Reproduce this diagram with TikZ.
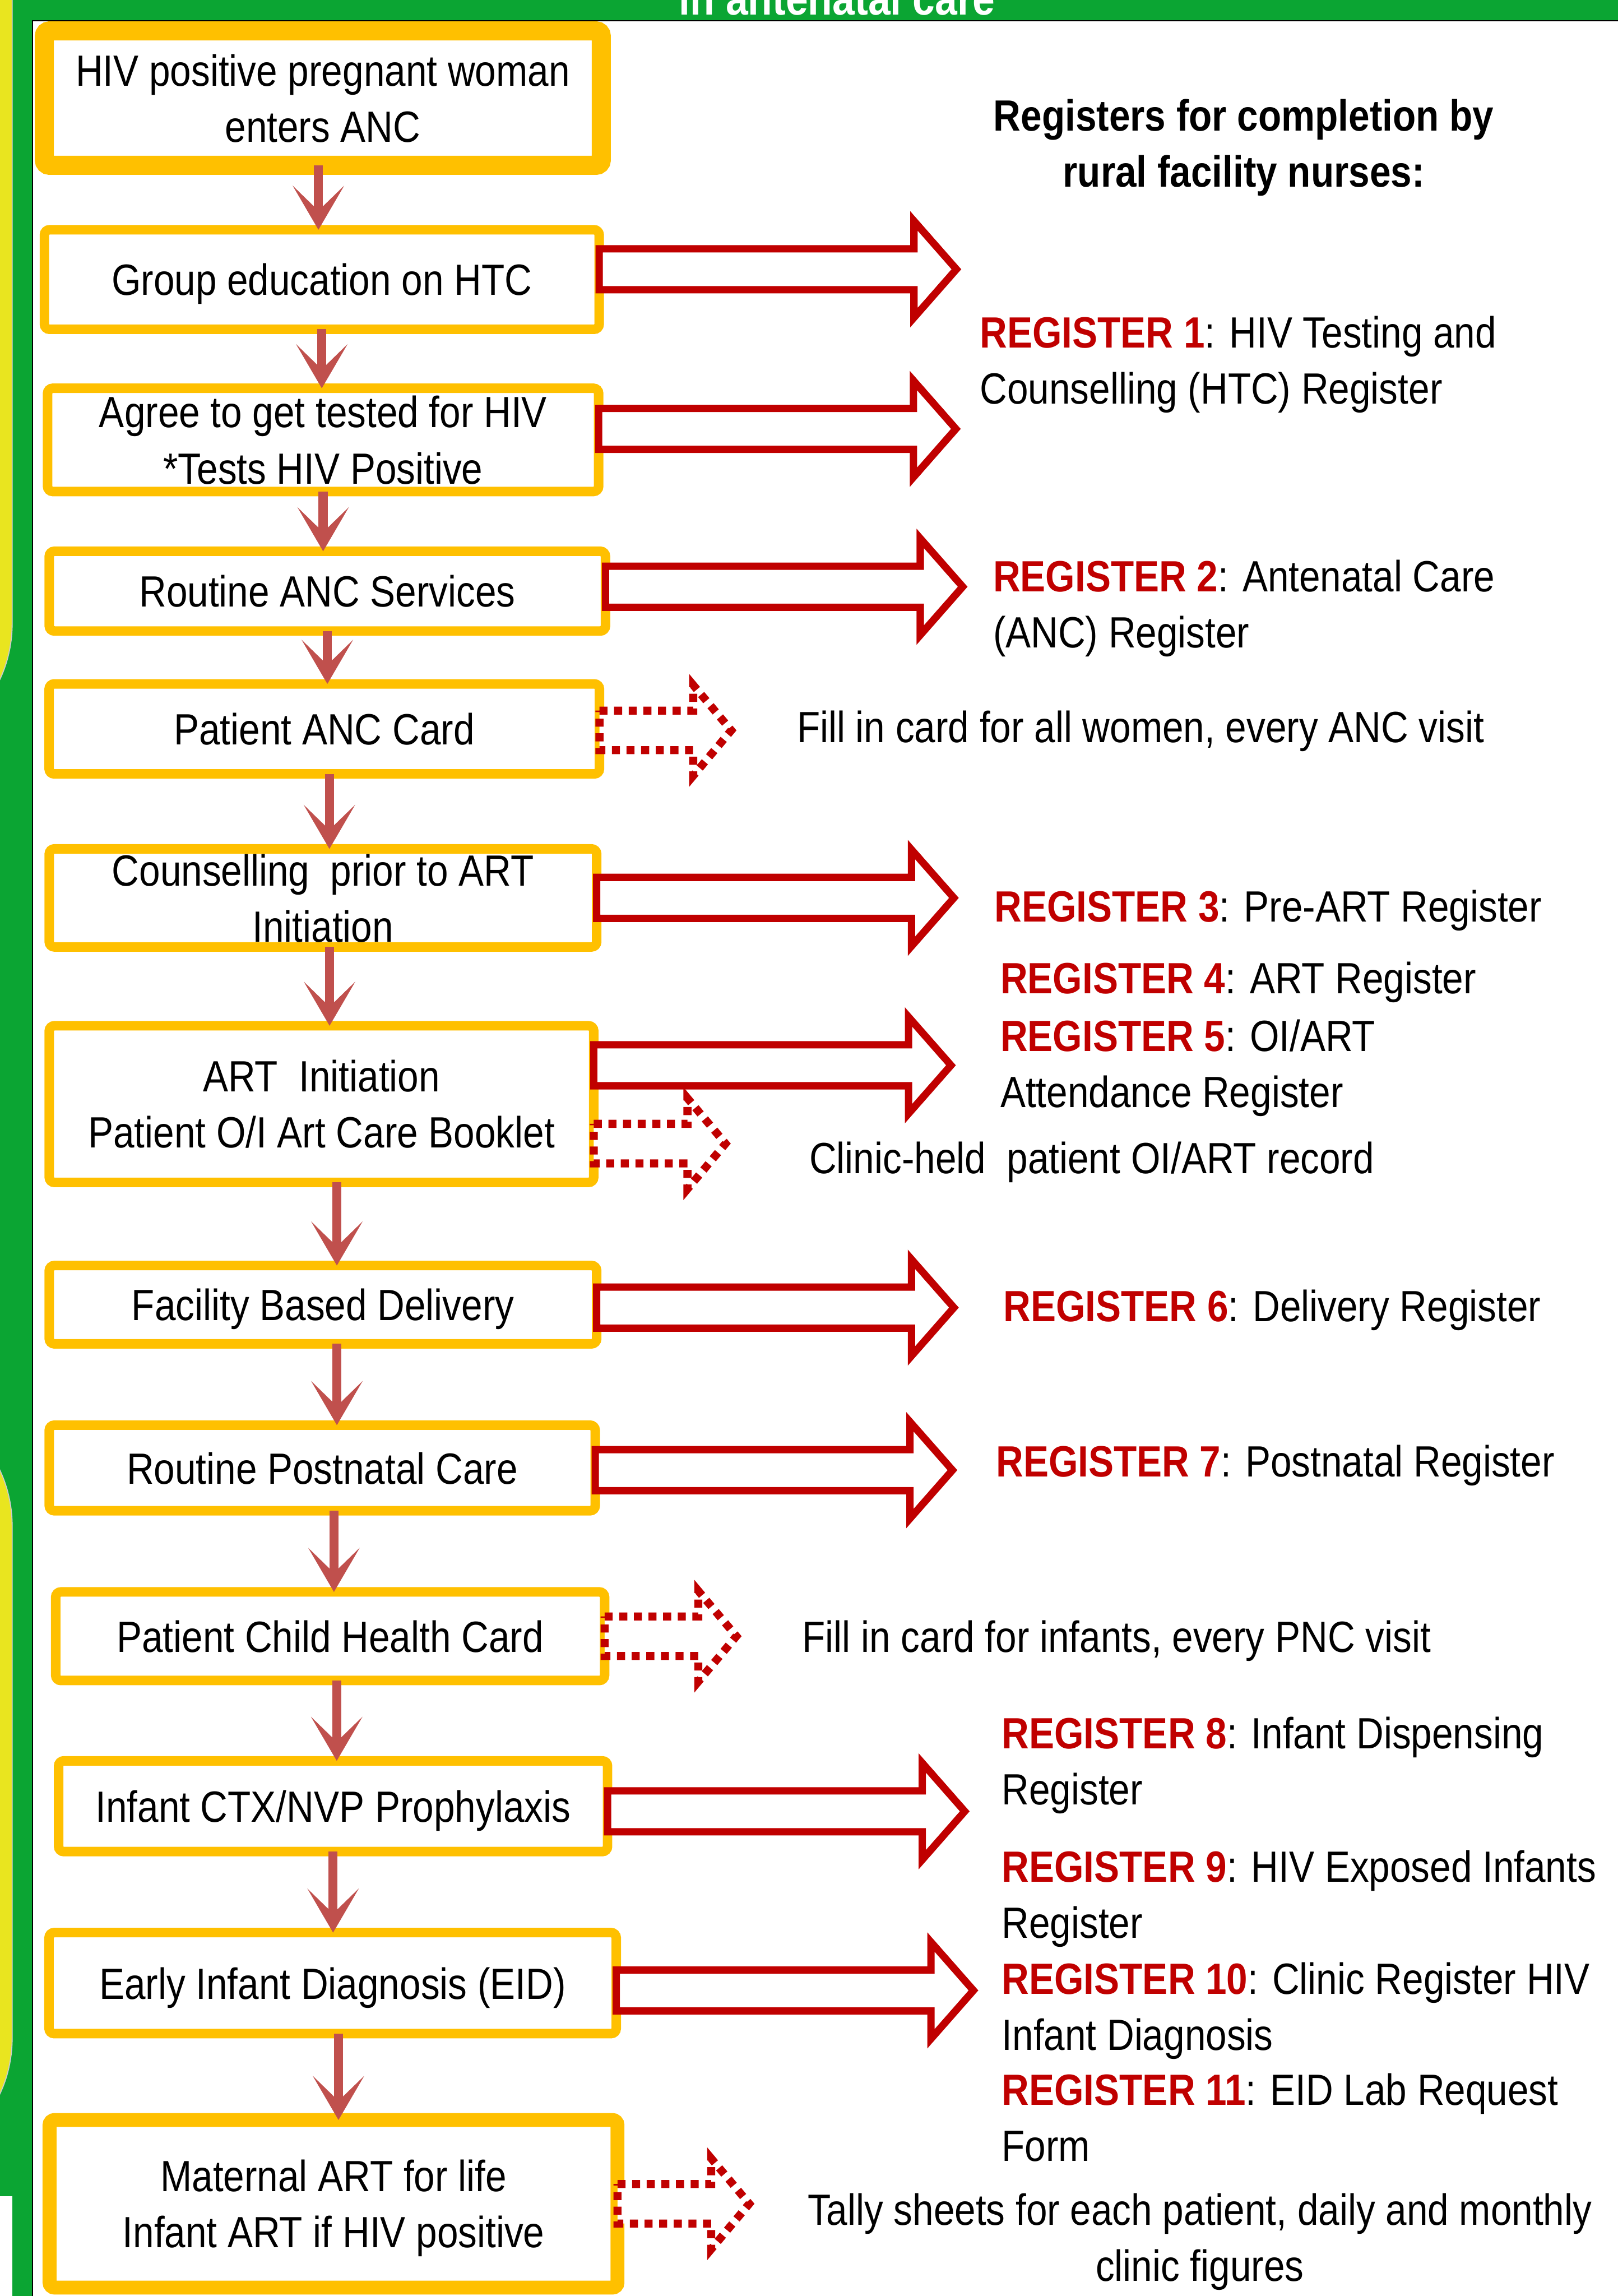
\documentclass[tikz,border=0pt]{standalone}
\usepackage{fontspec}
\setmainfont{Liberation Sans}[FakeStretch=0.865]
\usetikzlibrary{arrows.meta}
\definecolor{bandgreen}{HTML}{0BA533}
\definecolor{stripyellow}{HTML}{E9E51F}
\definecolor{boxyellow}{HTML}{FFC000}
\definecolor{regred}{HTML}{C00000}
\definecolor{flowred}{HTML}{C0504D}
\newcommand{\regno}[1]{\textcolor{regred}{\textbf{#1}}}

\begin{document}
\begin{tikzpicture}[
	x=0.02cm, y=-0.02cm,
	font=\fontsize{17}{21.8}\selectfont,
	stage/.style = {
		rectangle, draw=boxyellow, line width=0.13cm,
		fill=white, rounded corners=2pt, text depth=0pt,
		inner sep=0pt, outer sep=0pt, align=center
	},
	flow/.style = {
		draw=flowred, line width=0.124cm,
		-{Stealth[length=0.6cm, width=0.7cm, inset=0.34cm]}
	},
	regarrow/.pic = {
		\filldraw [draw=regred, fill=white, line width=0.1cm]
			(0,-14) -- (215,-14) -- (215,-33) -- (244,0)
			-- (215,33) -- (215,14) -- (0,14) -- cycle;
	},
	cardarrow/.pic = {
		\filldraw [draw=regred, fill=white, line width=0.11cm,
			dash pattern=on 0.11cm off 0.09cm]
			(0,-13.5) -- (64,-13.5) -- (64,-31) -- (90,0)
			-- (64,31) -- (64,13.5) -- (0,13.5) -- cycle;
	},
	note/.style = {anchor=base west, inner sep=0pt, align=left}
]
	\useasboundingbox (0,0) rectangle (1105,1568);
	\fill [bandgreen] (0,0) rectangle (1105,1568);
	\fill [white] (22.5,14.5) rectangle (1105,1568);
	\draw [line width=0.5pt] (22.3,1568) -- (22.3,14.3) -- (1105,14.3);
	\filldraw [fill=stripyellow, draw=gray!40, line width=0.4pt, rounded corners=1.8cm]
		(-200,-200) rectangle (8.3,516);
	\filldraw [fill=stripyellow, draw=gray!40, line width=0.4pt, rounded corners=1.8cm]
		(-200,952) rectangle (8.3,1482);
	\fill [white] (0,1500) rectangle (8.3,1568);
	\node [anchor=base west, inner sep=0pt, text=white, font=\fontsize{18}{22}\selectfont\bfseries]
		(title) at (463.5,10.2) {in antenatal care};

	\node [stage, line width=0.26cm, minimum width=7.61cm, minimum height=1.836cm]
		(enter) at (220.5,67) {HIV positive pregnant woman\\enters ANC};
	\node [stage, minimum width=7.58cm, minimum height=1.36cm]
		(edu) at (219.8,190.9) {Group education on HTC};
	\node [stage, minimum width=7.53cm, minimum height=1.41cm]
		(test) at (220.7,300.4) {Agree to get tested for HIV\\*Tests HIV Positive};
	\node [stage, minimum width=7.6cm, minimum height=1.09cm]
		(routine) at (223.6,403.7) {Routine ANC Services};
	\node [stage, minimum width=7.52cm, minimum height=1.23cm]
		(anccard) at (221.5,497.8) {Patient ANC Card};
	\node [stage, minimum width=7.48cm, minimum height=1.34cm]
		(counsel) at (220.6,613.2) {Counselling\ \ prior to ART\\Initiation};
	\node [stage, minimum width=7.44cm, minimum height=2.14cm]
		(artinit) at (219.6,754) {ART\ \ Initiation\\Patient O/I Art Care Booklet};
	\node [stage, minimum width=7.48cm, minimum height=1.07cm]
		(delivery) at (220.6,891) {Facility Based Delivery};
	\node [stage, minimum width=7.46cm, minimum height=1.17cm]
		(postnatal) at (220.1,1002.5) {Routine Postnatal Care};
	\node [stage, minimum width=7.5cm, minimum height=1.21cm]
		(childcard) at (225.5,1117.4) {Patient Child Health Card};
	\node [stage, minimum width=7.5cm, minimum height=1.24cm]
		(prophyl) at (227.5,1233.5) {Infant CTX/NVP Prophylaxis};
	\node [stage, minimum width=7.75cm, minimum height=1.38cm]
		(eid) at (227.2,1354.3) {Early Infant Diagnosis (EID)};
	\node [stage, line width=0.19cm, minimum width=7.76cm, minimum height=2.29cm]
		(lifeart) at (227.8,1505) {Maternal ART for life\\Infant ART if HIV positive};

	\pic at ([yshift=0.14cm]edu.east) {regarrow};
	\pic at ([yshift=0.15cm]test.east) {regarrow};
	\pic at ([yshift=0.06cm]routine.east) {regarrow};
	\pic at ([yshift=-0.02cm]anccard.east) {cardarrow};
	\pic at (counsel.east) {regarrow};
	\pic at ([yshift=0.53cm]artinit.east) {regarrow};
	\pic at ([yshift=-0.54cm]artinit.east) {cardarrow};
	\pic at ([yshift=-0.04cm]delivery.east) {regarrow};
	\pic at ([yshift=-0.03cm]postnatal.east) {regarrow};
	\pic at (childcard.east) {cardarrow};
	\pic at ([yshift=-0.07cm]prophyl.east) {regarrow};
	\pic at ([yshift=-0.1cm]eid.east) {regarrow};
	\pic at (lifeart.east) {cardarrow};

	\draw [flow] ([xshift=-0.06cm]enter.south) -- ([xshift=-0.06cm]enter.south |- edu.north);
	\draw [flow] (edu.south) -- (edu.south |- test.north);
	\draw [flow] (test.south) -- (test.south |- routine.north);
	\draw [flow] (routine.south) -- (routine.south |- anccard.north);
	\draw [flow] ([xshift=0.07cm]anccard.south) -- ([xshift=0.07cm]anccard.south |- counsel.north);
	\draw [flow] ([xshift=0.09cm]counsel.south) -- ([xshift=0.09cm]counsel.south |- artinit.north);
	\draw [flow] ([xshift=0.21cm]artinit.south) -- ([xshift=0.21cm]artinit.south |- delivery.north);
	\draw [flow] ([xshift=0.19cm]delivery.south) -- ([xshift=0.19cm]delivery.south |- postnatal.north);
	\draw [flow] ([xshift=0.16cm]postnatal.south) -- ([xshift=0.16cm]postnatal.south |- childcard.north);
	\draw [flow] ([xshift=0.09cm]childcard.south) -- ([xshift=0.09cm]childcard.south |- prophyl.north);
	\draw [flow] (prophyl.south) -- (prophyl.south |- eid.north);
	\draw [flow] ([xshift=0.08cm]eid.south) -- ([xshift=0.08cm]eid.south |- lifeart.north);

	\node [anchor=base, inner sep=0pt, align=center, font=\fontsize{17}{21.8}\selectfont\bfseries]
		(hdr) at (849.5,127.8) {Registers for completion by\\rural facility nurses:};
	\node [note] (reg1) at (669,276) {\regno{REGISTER 1}: HIV Testing and\\Counselling (HTC) Register};
	\node [note] (reg2) at (678,442.5) {\regno{REGISTER 2}: Antenatal Care\\(ANC) Register};
	\node [note] (fill1) at (544,507) {Fill in card for all women, every ANC visit};
	\node [note] (reg3) at (679,629.5) {\regno{REGISTER 3}: Pre-ART Register};
	\node [note] (reg4) at (683,678.5) {\regno{REGISTER 4}: ART Register};
	\node [note] (reg5) at (683,756.3) {\regno{REGISTER 5}: OI/ART\\Attendance Register};
	\node [note] (record) at (552.5,801.6) {Clinic-held\ \ patient OI/ART record};
	\node [note] (reg6) at (685,902.5) {\regno{REGISTER 6}: Delivery Register};
	\node [note] (reg7) at (680,1008.6) {\regno{REGISTER 7}: Postnatal Register};
	\node [note] (fill2) at (547.7,1128.5) {Fill in card for infants, every PNC visit};
	\node [note] (reg8) at (684,1232.4) {\regno{REGISTER 8}: Infant Dispensing\\Register};
	\node [note] (reg9) at (684,1323.4) {\regno{REGISTER 9}: HIV Exposed Infants\\Register};
	\node [note] (reg10) at (684,1400) {\regno{REGISTER 10}: Clinic Register HIV\\Infant Diagnosis};
	\node [note] (reg11) at (684,1476) {\regno{REGISTER 11}: EID Lab Request\\Form};
	\node [anchor=base, inner sep=0pt, align=center]
		(tally) at (819.5,1558) {Tally sheets for each patient, daily and monthly\\clinic figures};
\end{tikzpicture}
\end{document}
